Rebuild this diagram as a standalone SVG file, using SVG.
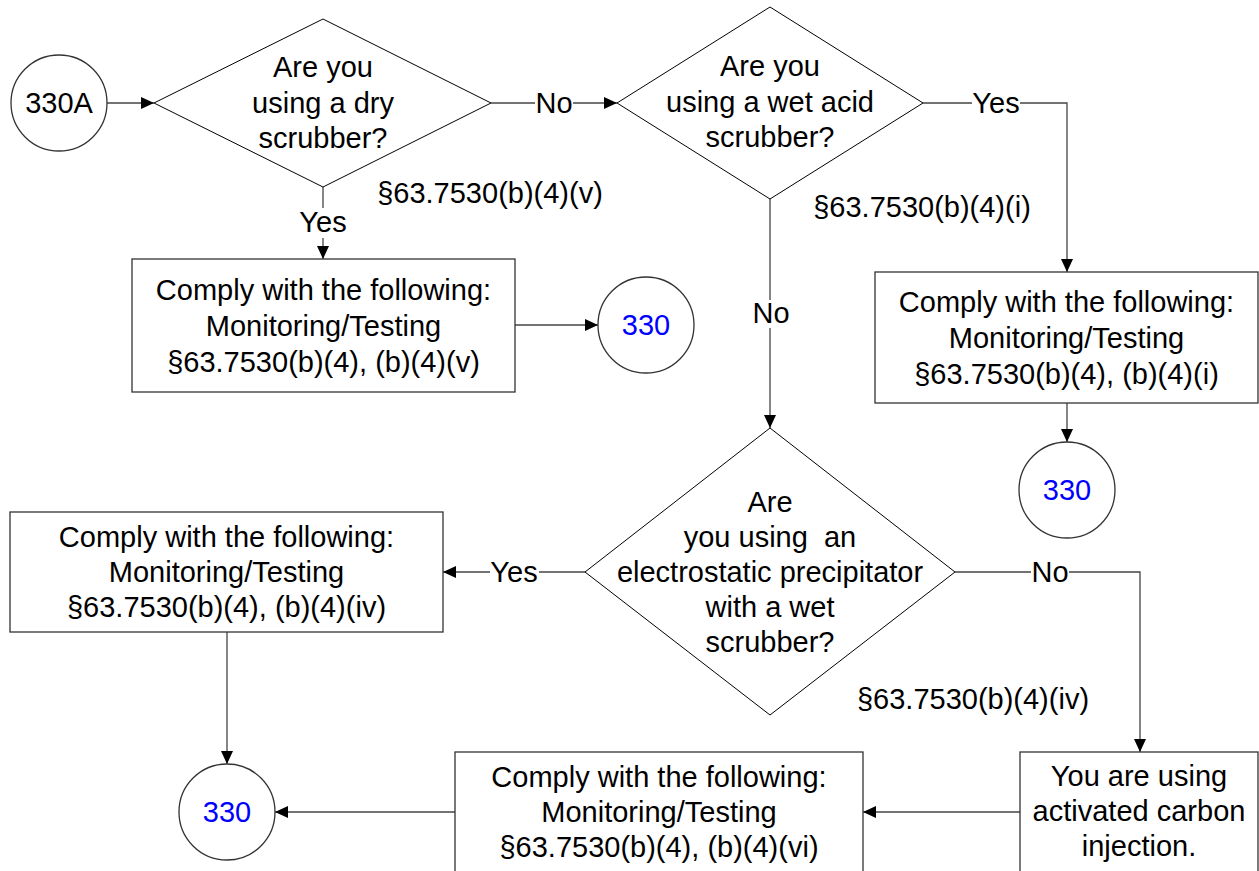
<svg xmlns="http://www.w3.org/2000/svg" width="1259" height="871" viewBox="0 0 1259 871">
<style>
  text { font-family: "Liberation Sans", Arial, sans-serif; font-size: 29px; fill: #000; text-anchor: middle; }
  .blue { fill: #0000ff; }
  .node { fill: #fff; stroke: #333; stroke-width: 1.3; }
  .dia { fill: #fff; stroke: #000; stroke-width: 1; }
  .conn { fill: none; stroke: #444; stroke-width: 1.3; }
  .lbg { fill: #fff; stroke: none; }
  .pre { white-space: pre; }
</style>
<defs>
  <marker id="arr" markerWidth="13" markerHeight="12" refX="13" refY="6" orient="auto" markerUnits="userSpaceOnUse">
    <path d="M0,0 L13,6 L0,12 z" fill="#000"/>
  </marker>
</defs>
<rect width="1259" height="871" fill="#fff"/>

<g id="connectors">
  <path class="conn" d="M107,103 H154" marker-end="url(#arr)"/>
  <path class="conn" d="M491,103 H617" marker-end="url(#arr)"/>
  <path class="conn" d="M923,103 H1067 V272" marker-end="url(#arr)"/>
  <path class="conn" d="M323,187 V259" marker-end="url(#arr)"/>
  <path class="conn" d="M515,325 H598" marker-end="url(#arr)"/>
  <path class="conn" d="M770,199 V428" marker-end="url(#arr)"/>
  <path class="conn" d="M1067,403 V442" marker-end="url(#arr)"/>
  <path class="conn" d="M585,572 H443" marker-end="url(#arr)"/>
  <path class="conn" d="M227,632 V764" marker-end="url(#arr)"/>
  <path class="conn" d="M955,572 H1140 V752" marker-end="url(#arr)"/>
  <path class="conn" d="M1020,812 H863" marker-end="url(#arr)"/>
  <path class="conn" d="M455,812 H275" marker-end="url(#arr)"/>
  <g id="labels">
    <rect class="lbg" x="535" y="92" width="38" height="24"/>
    <text x="554" y="113">No</text>
    <rect class="lbg" x="972" y="92" width="48" height="24"/>
    <text x="996" y="113">Yes</text>
    <rect class="lbg" x="298" y="208" width="50" height="30"/>
    <text x="323" y="232">Yes</text>
    <rect class="lbg" x="751" y="300" width="40" height="28"/>
    <text x="771" y="323">No</text>
    <rect class="lbg" x="490" y="560" width="49" height="26"/>
    <text x="514" y="582">Yes</text>
    <rect class="lbg" x="1031" y="560" width="38" height="26"/>
    <text x="1050" y="582">No</text>
    <text x="490" y="203">§63.7530(b)(4)(v)</text>
    <text x="922" y="217">§63.7530(b)(4)(i)</text>
    <text x="973" y="709">§63.7530(b)(4)(iv)</text>
  </g>
</g>

<g id="start330A">
  <circle class="node" cx="59" cy="103" r="48"/>
  <text x="59" y="113">330A</text>
</g>

<g id="decisionDry">
  <polygon class="dia" points="154,103 323,19 491,103 323,187"/>
  <text x="323" y="77">Are you</text>
  <text x="323" y="113">using a dry</text>
  <text x="323" y="148">scrubber?</text>
</g>

<g id="decisionWetAcid">
  <polygon class="dia" points="617,103 770,7 923,103 770,199"/>
  <text x="770" y="76">Are you</text>
  <text x="770" y="112">using a wet acid</text>
  <text x="770" y="147">scrubber?</text>
</g>

<g id="boxDry">
  <rect class="node" x="132" y="259" width="383" height="133"/>
  <text x="323.5" y="300">Comply with the following:</text>
  <text x="323.5" y="336">Monitoring/Testing</text>
  <text x="323.5" y="372">§63.7530(b)(4), (b)(4)(v)</text>
</g>

<g id="end330a">
  <circle class="node" cx="646" cy="325" r="48"/>
  <text class="blue" x="646" y="335">330</text>
</g>

<g id="boxWetAcid">
  <rect class="node" x="875" y="272" width="383" height="131"/>
  <text x="1066.5" y="312">Comply with the following:</text>
  <text x="1066.5" y="348">Monitoring/Testing</text>
  <text x="1066.5" y="384">§63.7530(b)(4), (b)(4)(i)</text>
</g>

<g id="end330b">
  <circle class="node" cx="1067" cy="490" r="48"/>
  <text class="blue" x="1067" y="500">330</text>
</g>

<g id="decisionESP">
  <polygon class="dia" points="585,572 770,428 955,572 770,715"/>
  <text x="770" y="512">Are</text>
  <text class="pre" x="770" y="547">you using  an</text>
  <text x="770" y="582">electrostatic precipitator</text>
  <text x="770" y="617">with a wet</text>
  <text x="770" y="652">scrubber?</text>
</g>

<g id="boxESP">
  <rect class="node" x="10" y="512" width="433" height="120"/>
  <text x="226.5" y="547">Comply with the following:</text>
  <text x="226.5" y="582">Monitoring/Testing</text>
  <text x="226.5" y="617">§63.7530(b)(4), (b)(4)(iv)</text>
</g>

<g id="end330c">
  <circle class="node" cx="227" cy="812" r="48"/>
  <text class="blue" x="227" y="822">330</text>
</g>

<g id="boxACI">
  <rect class="node" x="1020" y="752" width="238" height="140"/>
  <text x="1139" y="786">You are using</text>
  <text x="1139" y="821">activated carbon</text>
  <text x="1139" y="856">injection.</text>
</g>

<g id="boxACIComply">
  <rect class="node" x="455" y="752" width="408" height="140"/>
  <text x="659" y="787">Comply with the following:</text>
  <text x="659" y="822">Monitoring/Testing</text>
  <text x="659" y="857">§63.7530(b)(4), (b)(4)(vi)</text>
</g>
</svg>
